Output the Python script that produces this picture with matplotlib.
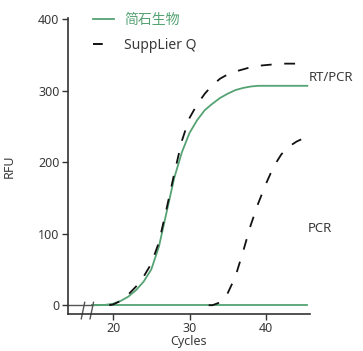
"""
qPCR amplification curves: 简石生物 vs Supplier Q
"""

import matplotlib

matplotlib.use("Agg")
import matplotlib.pyplot as plt
from matplotlib.lines import Line2D

plt.rcParams["font.family"] = ["Noto Sans", "Noto Sans CJK SC", "DejaVu Sans"]

# Green (简石生物) RT/PCR curve
cycles_green = [17.25, 18, 19, 20, 21, 22, 23, 24, 25, 26, 27, 28, 29, 30,
                31, 32, 33, 34, 35, 36, 37, 38, 39, 40, 41, 42, 43, 44, 45.4]
rfu_green = [0, 0, 0.5, 2, 6, 12, 21, 33, 50, 82, 130, 178, 214, 241,
             259, 273, 282, 290, 296, 301, 304, 306, 307, 307, 307, 307, 307, 307, 307]

# Green baseline (PCR, no amplification)
cycles_base = [17.25, 45.4]
rfu_base = [0, 0]

# Supplier Q RT/PCR curve
cycles_q_rt = [19.5, 20, 21, 22, 23, 24, 25, 26, 27, 28, 29, 30, 31, 32,
               33, 34, 35, 36, 37, 38, 39, 40, 41, 42, 43, 44.5]
rfu_q_rt = [0, 1, 6, 15, 26, 40, 58, 88, 135, 184, 230, 262, 281, 296,
            308, 317, 323, 327, 330, 333, 335, 336, 337, 338, 338, 338]

# Supplier Q PCR curve
cycles_q_pcr = [32.5, 33, 34, 35, 36, 37, 38, 39, 40, 41, 42, 43, 44, 44.6]
rfu_q_pcr = [0, 0, 4, 17, 40, 75, 112, 143, 170, 194, 211, 222, 229, 232]

y_ticks = [0, 100, 200, 300, 400]
x_ticks = [20, 30, 40]

GREEN = "#55a273"
TEXT = "#3a3a3a"

fig = plt.figure(figsize=(3.63, 3.51), dpi=100)
ax = fig.add_axes([0.187, 0.105, 0.667, 0.844])

ax.plot(cycles_base, rfu_base, color=GREEN, lw=1.3)
ax.plot(cycles_green, rfu_green, color=GREEN, lw=1.3)
ax.plot(cycles_q_rt, rfu_q_rt, color="#111111", lw=1.3, dashes=(6, 7))
ax.plot(cycles_q_pcr, rfu_q_pcr, color="#111111", lw=1.3, dashes=(6, 7))

ax.set_xlim(14.1, 45.75)
ax.set_ylim(-12.5, 402)
ax.set_xticks(x_ticks)
ax.set_yticks(y_ticks)

for side in ["top", "right"]:
    ax.spines[side].set_visible(False)
for side in ["left", "bottom"]:
    ax.spines[side].set_color("#333333")
    ax.spines[side].set_linewidth(1.2)
ax.tick_params(length=4, width=1.0, color="#333333", labelcolor=TEXT, labelsize=9, pad=2)

ax.set_xlabel("Cycles", fontsize=9, color=TEXT, labelpad=0)
ax.set_ylabel("RFU", fontsize=9, color=TEXT, labelpad=16)

# axis break marks
ax.plot([14.1, 17.25], [0, 0], color="#555555", lw=1.0)
for xb in [16.1, 17.25]:
    ax.plot([xb - 0.25, xb + 0.2], [-19, 4], color="#555555", lw=1.0, clip_on=False)

ax.text(45.6, 318, "RT/PCR", fontsize=9.5, color=TEXT, va="center", ha="left", clip_on=False)
ax.text(45.5, 107, "PCR", fontsize=9.5, color=TEXT, va="center", ha="left", clip_on=False)

handles = [
    Line2D([], [], color=GREEN, lw=1.3),
    Line2D([], [], color="#111111", lw=1.4, dashes=(5, 30)),
]
leg = ax.legend(handles, ["简石生物", "SuppLier Q"], loc="upper left",
                bbox_to_anchor=(93 / 363, 1 - 13 / 351), bbox_transform=fig.transFigure,
                frameon=False, fontsize=10, handlelength=1.5, handletextpad=0.75,
                borderpad=0, borderaxespad=0, labelspacing=0.7)
leg.get_texts()[0].set_color(GREEN)
leg.get_texts()[1].set_color(TEXT)

fig.savefig("out.png", dpi=100)
